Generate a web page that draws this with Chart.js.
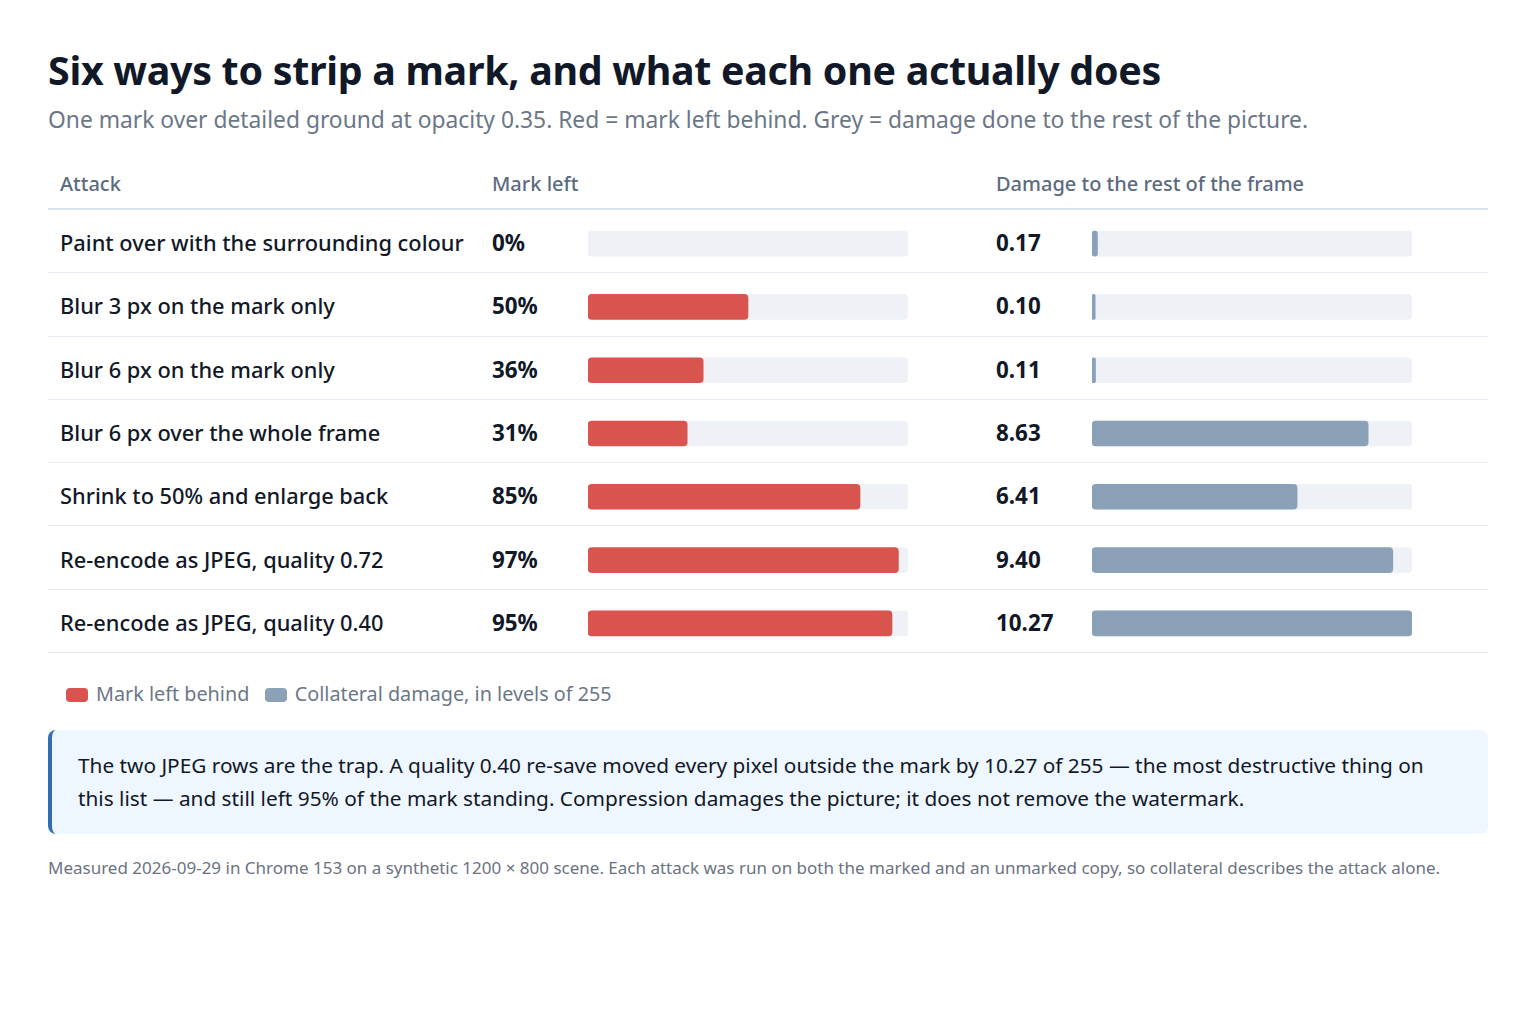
<!DOCTYPE html>
<html>
<head>
<meta charset="utf-8">
<script src="https://cdn.jsdelivr.net/npm/chart.js@4.4.1/dist/chart.umd.min.js"></script>
<style>
  html, body { margin: 0; padding: 0; background: #ffffff; }
  body { width: 1536px; height: 1024px; position: relative; font-family: "Noto Sans", "Open Sans", sans-serif; color: #111827; }
  .abs { position: absolute; }
  #titulo { left: 48px; top: 43px; font-size: 39.4px; font-weight: 700; letter-spacing: -0.3px; color: #111827; white-space: nowrap; }
  #subtitulo { left: 48px; top: 104px; font-size: 22.8px; color: #6b7787; white-space: nowrap; }
  .cab { top: 170px; font-size: 20px; font-weight: 500; color: #5b6b80; white-space: nowrap; }
  #lineaCab { left: 48px; top: 208px; width: 1440px; height: 2px; background: #dbe3ec; }
  .fila { left: 48px; width: 1440px; height: 63.3px; border-bottom: 1px solid #e7ecf2; box-sizing: border-box; }
  .txt { position: absolute; top: 2px; line-height: 62px; font-size: 21.8px; white-space: nowrap; }
  .nombre { left: 12px; font-weight: 500; }
  .valor { font-weight: 700; font-size: 22.4px; }
  canvas { position: absolute; }
  #leyenda { left: 66px; top: 680px; font-size: 19.8px; color: #6b7787; white-space: nowrap; }
  .muestra { display: inline-block; width: 22px; height: 14px; border-radius: 4px; vertical-align: -1px; margin-right: 8px; }
  #nota { left: 48px; top: 730px; width: 1440px; height: 104px; box-sizing: border-box; background: #eef6ff; border-left: 4px solid #2f6db5; border-radius: 8px; padding: 19px 26px; font-size: 20.8px; line-height: 33px; color: #111827; }
  #pie { left: 48px; top: 856px; font-size: 17px; color: #6b7280; white-space: nowrap; }
</style>
</head>
<body>
<div id="titulo" class="abs">Six ways to strip a mark, and what each one actually does</div>
<div id="subtitulo" class="abs">One mark over detailed ground at opacity 0.35. Red = mark left behind. Grey = damage done to the rest of the picture.</div>

<div class="abs cab" style="left:60px">Attack</div>
<div class="abs cab" style="left:492px">Mark left</div>
<div class="abs cab" style="left:996px">Damage to the rest of the frame</div>
<div id="lineaCab" class="abs"></div>

<div id="filas"></div>

<canvas id="graficoMarca" width="320" height="443" style="left:588px; top:212px; width:320px; height:443px"></canvas>
<canvas id="graficoDano" width="320" height="443" style="left:1092px; top:212px; width:320px; height:443px"></canvas>

<div id="leyenda" class="abs"><span class="muestra" style="background:#d9534f"></span>Mark left behind&nbsp;&nbsp;&nbsp;<span class="muestra" style="background:#8aa1b7"></span>Collateral damage, in levels of 255</div>

<div id="nota" class="abs">The two JPEG rows are the trap. A quality 0.40 re-save moved every pixel outside the mark by 10.27 of 255 — the most destructive thing on this list — and still left 95% of the mark standing. Compression damages the picture; it does not remove the watermark.</div>

<div id="pie" class="abs">Measured 2026-09-29 in Chrome 153 on a synthetic 1200 × 800 scene. Each attack was run on both the marked and an unmarked copy, so collateral describes the attack alone.</div>

<script>
const ataques = [
    "Paint over with the surrounding colour",
    "Blur 3 px on the mark only",
    "Blur 6 px on the mark only",
    "Blur 6 px over the whole frame",
    "Shrink to 50% and enlarge back",
    "Re-encode as JPEG, quality 0.72",
    "Re-encode as JPEG, quality 0.40"
];
const marcaRestante = [0, 50, 36, 31, 85, 97, 95];          // porcentaje
const danoColateral = [0.17, 0.10, 0.11, 8.63, 6.41, 9.40, 10.27]; // niveles de 255

const maxMarca = 100;
const maxDano = 10; // la escala de la barra llega hasta 10

function dibujarFilas() {
    const contenedor = document.getElementById("filas");
    for (let i = 0; i < ataques.length; i++) {
        const fila = document.createElement("div");
        fila.className = "abs fila";
        fila.style.top = (210 + i * 63.3) + "px";
        fila.innerHTML =
            '<span class="txt nombre">' + ataques[i] + '</span>' +
            '<span class="txt valor" style="left:444px">' + marcaRestante[i] + '%</span>' +
            '<span class="txt valor" style="left:948px">' + danoColateral[i].toFixed(2) + '</span>';
        contenedor.appendChild(fila);
    }
}

function mostrarGrafico(id, valores, maximo, color) {
    const ctx = document.getElementById(id).getContext('2d');
    new Chart(ctx, {
        type: 'bar',
        data: {
            labels: ataques,
            datasets: [
                {
                    // un cero no dibuja nada
                    data: valores.map(v => v > 0 ? Math.min(v, maximo) : null),
                    backgroundColor: color,
                    borderRadius: 4,
                    borderSkipped: false,
                    barThickness: 25,
                    grouped: false,
                    order: 1
                },
                {
                    data: valores.map(() => maximo),
                    backgroundColor: '#eef2f6',
                    borderRadius: 4,
                    borderSkipped: false,
                    barThickness: 25,
                    grouped: false,
                    order: 2
                }
            ]
        },
        options: {
            indexAxis: 'y',
            responsive: false,
            animation: false,
            layout: { padding: 0 },
            plugins: { legend: { display: false }, tooltip: { enabled: false } },
            scales: {
                x: { min: 0, max: maximo, display: false },
                y: { display: false }
            }
        }
    });
}

dibujarFilas();
mostrarGrafico('graficoMarca', marcaRestante, maxMarca, '#d9534f');
mostrarGrafico('graficoDano', danoColateral, maxDano, '#8aa1b7');
</script>
</body>
</html>
